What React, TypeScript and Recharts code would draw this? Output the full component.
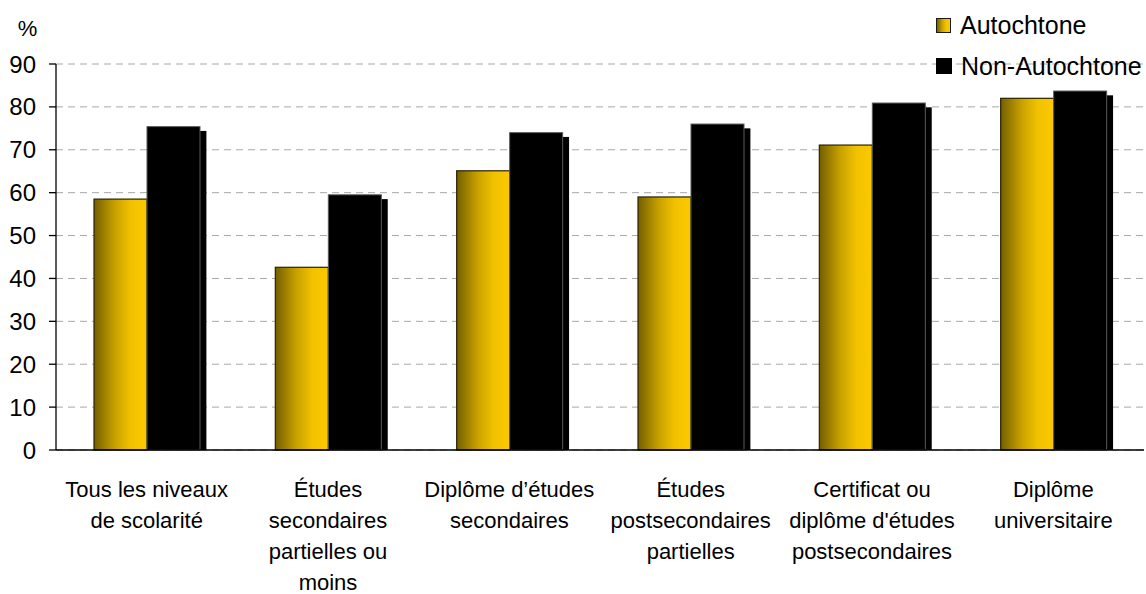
import React from 'react';
import { BarChart, Bar, XAxis, YAxis, CartesianGrid } from 'recharts';

const categories = [
  'Tous les niveaux de scolarité',
  'Études secondaires partielles ou moins',
  'Diplôme d’études secondaires',
  'Études postsecondaires partielles',
  "Certificat ou diplôme d'études postsecondaires",
  'Diplôme universitaire',
];
const categoryLines = [
  ['Tous les niveaux', 'de scolarité'],
  ['Études', 'secondaires', 'partielles ou', 'moins'],
  ['Diplôme d’études', 'secondaires'],
  ['Études', 'postsecondaires', 'partielles'],
  ['Certificat ou', "diplôme d'études", 'postsecondaires'],
  ['Diplôme', 'universitaire'],
];
const autochtone = [58.5, 42.6, 65.1, 59.0, 71.1, 82.0];
const nonAutochtone = [75.4, 59.5, 74.0, 76.0, 80.9, 83.7];
const seriesNames = ['Autochtone', 'Non-Autochtone'];
const yTicks = [0, 10, 20, 30, 40, 50, 60, 70, 80, 90];
const unitLabel = '%';

const data = categories.map((c, i) => ({
  name: c,
  a: autochtone[i],
  n: nonAutochtone[i],
}));

const FONT = '"Liberation Sans", Arial, Helvetica, sans-serif';
const GOLD_GRADIENT = 'linear-gradient(to right, #735f00 0%, #c9a200 40%, #f2c200 70%, #fbc900 100%)';

const CatTick = (props: any) => {
  const { x, y, payload } = props;
  const idx = categories.indexOf(payload.value);
  const lines = categoryLines[idx] || [payload.value];
  return (
    <text x={x} y={y} textAnchor="middle" fontSize={22} fill="#000" fontFamily={FONT}>
      {lines.map((l, i) => (
        <tspan key={i} x={x} dy={i === 0 ? 46.5 : 31}>
          {l}
        </tspan>
      ))}
    </text>
  );
};

const GoldShape = (props: any) => {
  const { x, y, width, height } = props;
  return (
    <rect x={x} y={y} width={width} height={height} fill="url(#goldGrad)" stroke="#2a2300" strokeWidth={1.2} />
  );
};

const BlackShape = (props: any) => {
  const { x, y, width, height } = props;
  return (
    <g>
      <rect x={x + 6.4} y={y + 4.3} width={width} height={Math.max(0, height - 4.3)} fill="#000" />
      <rect x={x} y={y} width={width} height={height} fill="#000" stroke="#5a5a5a" strokeWidth={1} />
    </g>
  );
};

const PercentLabel = (props: any) => {
  const vb = props.viewBox || {};
  return (
    <text x={27.5} y={(vb.y ?? 64) - 28} textAnchor="middle" fontSize={22} fill="#000" fontFamily={FONT}>
      {unitLabel}
    </text>
  );
};

export default function App() {
  return (
    <div style={{ position: 'relative', width: 1146, height: 594, background: '#fff', fontFamily: FONT }}>
      <style>{`body{margin:0;background:#fff;}`}</style>
      <BarChart
        width={1146}
        height={594}
        data={data}
        margin={{ top: 64, right: 2, bottom: 0, left: 0 }}
        barGap={0}
        style={{ fontFamily: FONT }}
      >
        <defs>
          <linearGradient id="goldGrad" x1="0" y1="0" x2="1" y2="0">
            <stop offset="0%" stopColor="#735f00" />
            <stop offset="40%" stopColor="#c9a200" />
            <stop offset="70%" stopColor="#f2c200" />
            <stop offset="100%" stopColor="#fbc900" />
          </linearGradient>
        </defs>
        <CartesianGrid vertical={false} stroke="#a8a8a8" strokeDasharray="7 5" />
        <XAxis
          dataKey="name"
          axisLine={{ stroke: '#000', strokeWidth: 1.3 }}
          tickLine={false}
          tickSize={0}
          tickMargin={0}
          height={144}
          interval={0}
          tick={<CatTick />}
        />
        <YAxis
          domain={[0, 90]}
          ticks={yTicks}
          interval={0}
          width={56}
          axisLine={{ stroke: '#000', strokeWidth: 1.3 }}
          tickLine={{ stroke: '#000', strokeWidth: 1.3 }}
          tickSize={7}
          tickMargin={13}
          tick={{ fontSize: 24, fill: '#000', fontFamily: FONT }}
          label={<PercentLabel />}
        />
        <Bar dataKey="a" name={seriesNames[0]} barSize={53} shape={<GoldShape />} isAnimationActive={false} />
        <Bar dataKey="n" name={seriesNames[1]} barSize={53} shape={<BlackShape />} isAnimationActive={false} />
      </BarChart>
      <div style={{ position: 'absolute', left: 936, top: 10, height: 30, display: 'flex', alignItems: 'center' }}>
        <div style={{ width: 13, height: 13, border: '1.5px solid #1a1a1a', background: GOLD_GRADIENT }} />
        <span style={{ marginLeft: 9, fontSize: 25, color: '#000', whiteSpace: 'nowrap' }}>{seriesNames[0]}</span>
      </div>
      <div style={{ position: 'absolute', left: 936, top: 51, height: 30, display: 'flex', alignItems: 'center' }}>
        <div style={{ width: 16, height: 16, background: '#000' }} />
        <span style={{ marginLeft: 9, fontSize: 25, color: '#000', whiteSpace: 'nowrap' }}>{seriesNames[1]}</span>
      </div>
    </div>
  );
}
